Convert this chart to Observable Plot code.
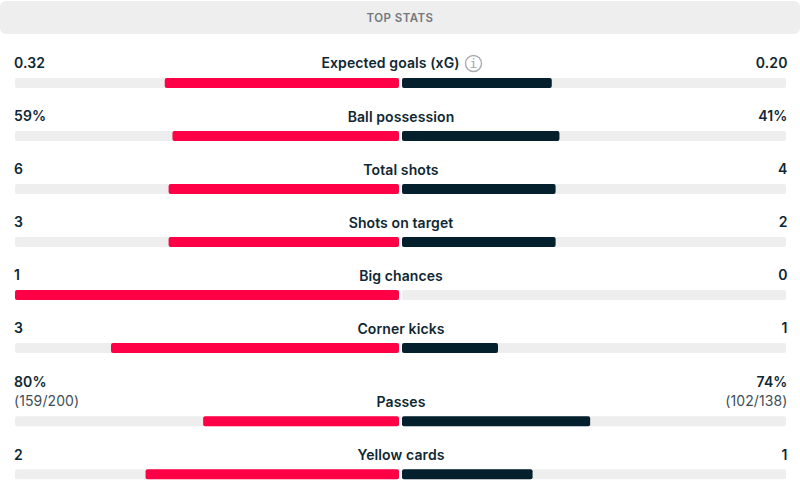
<!DOCTYPE html>
<html>
<head>
<meta charset="utf-8">
<script src="https://cdn.jsdelivr.net/npm/d3@7"></script>
<script src="https://cdn.jsdelivr.net/npm/@observablehq/plot@0.6"></script>
<style>
  html, body { margin: 0; padding: 0; background: #fff; }
  #wrap { width: 800px; height: 500px; overflow: hidden; font-family: Inter, sans-serif; }
  #head { margin-top: 1px; height: 33px; line-height: 34px; background: #eeeeee; border-radius: 6px;
          text-align: center; font-size: 11.5px; font-weight: 600; color: #74787c; letter-spacing: 0.45px; }
  svg { display: block; }
  text { letter-spacing: 0.1px; }
</style>
</head>
<body>
<div id="wrap"><div id="head">TOP STATS</div><div id="chart"></div></div>
<script>
const stats = ["Expected goals (xG)", "Ball possession", "Total shots", "Shots on target", "Big chances", "Corner kicks", "Passes", "Yellow cards"];
const homeLabels = ["0.32", "59%", "6", "3", "1", "3", "80%", "2"];
const awayLabels = ["0.20", "41%", "4", "2", "0", "1", "74%", "1"];
const homeDetails = ["", "", "", "", "", "", "(159/200)", ""];
const awayDetails = ["", "", "", "", "", "", "(102/138)", ""];
const homeShare = [0.61, 0.59, 0.60, 0.60, 1.00, 0.75, 0.51, 0.66];
const awayShare = [0.39, 0.41, 0.40, 0.40, 0.00, 0.25, 0.49, 0.34];
const rowPosition = [0, 1, 2, 3, 4, 5, 6.38, 7.38];
const thickness = 10 / 53;

const rows = stats.map((stat, i) => ({
  stat, row: rowPosition[i],
  home: homeShare[i], away: awayShare[i],
  homeLabel: homeLabels[i], awayLabel: awayLabels[i],
  homeDetail: homeDetails[i], awayDetail: awayDetails[i],
  hasDetail: homeDetails[i] !== ""
}));
const barTop = d => d.row - thickness / 2;
const barBottom = d => d.row + thickness / 2;
const ink = "#0f2733";
const font = {fontFamily: "Inter, sans-serif", fontSize: 14};

const chart = Plot.plot({
  width: 800, height: 466,
  marginTop: 0, marginRight: 0, marginBottom: 0, marginLeft: 0,
  x: {domain: [-1, 1], range: [16.5, 784.5], axis: null},
  y: {domain: [0, 1], range: [49, 102], axis: null},
  marks: [
    Plot.rect(rows, {x1: () => -1, x2: () => 0, y1: barTop, y2: barBottom, fill: "#eeeeee", r: 2, dx: -1.5}),
    Plot.rect(rows, {x1: () => 0, x2: () => 1, y1: barTop, y2: barBottom, fill: "#eeeeee", r: 2, dx: 1.5}),
    Plot.rect(rows, {x1: () => 0, x2: d => -d.home, y1: barTop, y2: barBottom, fill: "#ff0046", r: 2, dx: -1.5}),
    Plot.rect(rows.filter(d => d.away > 0), {x1: () => 0, x2: d => d.away, y1: barTop, y2: barBottom, fill: "#03202c", r: 2, dx: 1.5}),
    Plot.text(rows, {x: () => 0, y: "row", text: "stat", dy: -19, fill: ink, fontWeight: 600, ...font,
      filter: d => d.row !== 0}),
    Plot.text(rows, {x: () => 0, y: "row", text: "stat", dy: -19.5, dx: -10.5, fill: ink, fontWeight: 600, ...font,
      filter: d => d.row === 0}),
    Plot.dot(rows, {x: () => 0, y: "row", r: 8, dx: 72.5, dy: -20, stroke: "#a9adb0", strokeWidth: 1.4, fill: "none",
      filter: d => d.row === 0}),
    Plot.text(rows, {x: () => 0, y: "row", text: () => "i", dx: 72.5, dy: -20, fill: "#a0a4a7", fontFamily: "'DejaVu Sans Mono', monospace", fontSize: 13,
      filter: d => d.row === 0}),
    Plot.text(rows, {x: () => -1, y: "row", text: "homeLabel", textAnchor: "start", dx: -3, dy: -19.5, fill: ink, fontWeight: 600, ...font,
      filter: d => !d.hasDetail}),
    Plot.text(rows, {x: () => 1, y: "row", text: "awayLabel", textAnchor: "end", dx: 2.5, dy: -19.5, fill: ink, fontWeight: 600, ...font,
      filter: d => !d.hasDetail}),
    Plot.text(rows, {x: () => -1, y: "row", text: "homeLabel", textAnchor: "start", dx: -3, dy: -39, fill: ink, fontWeight: 600, ...font,
      filter: "hasDetail"}),
    Plot.text(rows, {x: () => 1, y: "row", text: "awayLabel", textAnchor: "end", dx: 2.5, dy: -39, fill: ink, fontWeight: 600, ...font,
      filter: "hasDetail"}),
    Plot.text(rows, {x: () => -1, y: "row", text: "homeDetail", textAnchor: "start", dx: -3, dy: -20, fill: "#3e4f59", ...font,
      filter: "hasDetail"}),
    Plot.text(rows, {x: () => 1, y: "row", text: "awayDetail", textAnchor: "end", dx: 2.5, dy: -20, fill: "#3e4f59", ...font,
      filter: "hasDetail"})
  ]
});
document.getElementById("chart").appendChild(chart);
</script>
</body>
</html>
